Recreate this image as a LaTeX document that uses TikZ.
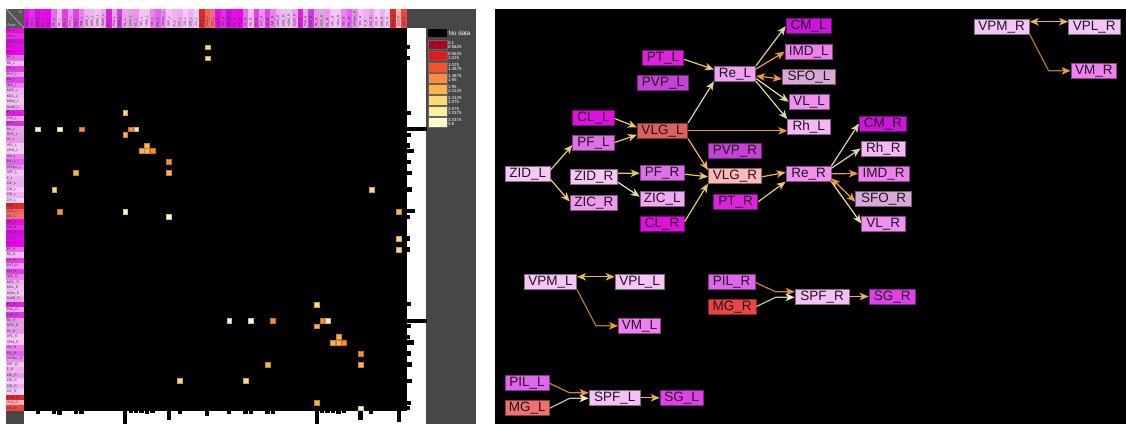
\documentclass[tikz,border=0pt]{standalone}
\usepackage{fontspec}
\setmainfont{Liberation Sans}
\usetikzlibrary{arrows.meta,calc}

% panel colours
\definecolor{panelgray}{HTML}{474747}
\definecolor{cornergray}{HTML}{555555}
\definecolor{ntxt}{HTML}{1E141E}
% heat map scale (YlOrRd)
\definecolor{lg1}{HTML}{B10026}
\definecolor{lg2}{HTML}{E31A1C}
\definecolor{lg3}{HTML}{FC4E2A}
\definecolor{lg4}{HTML}{FD8D3C}
\definecolor{lg5}{HTML}{FEB24C}
\definecolor{lg6}{HTML}{FED976}
\definecolor{lg7}{HTML}{FFEDA0}
\definecolor{lg8}{HTML}{FFFFCC}
% edge colours
\definecolor{epale}{HTML}{D6D6AA}
\definecolor{epy}{HTML}{E6DE9E}
\definecolor{eyel}{HTML}{E8C870}
\definecolor{elor}{HTML}{EEB452}
\definecolor{eora}{HTML}{F09A38}
\definecolor{ebrn}{HTML}{B07830}
\definecolor{ebro}{HTML}{C8842E}
\definecolor{egry}{HTML}{C4C4A2}
\definecolor{epal2}{HTML}{F2F2D2}
% node fills
\definecolor{fPT}{HTML}{DD22DD}
\definecolor{fPVP}{HTML}{C642D6}
\definecolor{fRe}{HTML}{F0A0F0}
\definecolor{fReR}{HTML}{F090F0}
\definecolor{fCM}{HTML}{CC14DC}
\definecolor{fIMD}{HTML}{EE80EE}
\definecolor{fSFO}{HTML}{D8A8D8}
\definecolor{fVL}{HTML}{F090F0}
\definecolor{fRh}{HTML}{F5B8F5}
\definecolor{fCL}{HTML}{E010E0}
\definecolor{fPF}{HTML}{E070E8}
\definecolor{fVLGL}{HTML}{DD6060}
\definecolor{fVLGR}{HTML}{FFB8B8}
\definecolor{fZID}{HTML}{F5C8F5}
\definecolor{fZICR}{HTML}{EE99EE}
\definecolor{fZICL}{HTML}{F0A8F0}
\definecolor{fVPx}{HTML}{F5C5F5}
\definecolor{fVM}{HTML}{F080F0}
\definecolor{fPIL}{HTML}{E066EE}
\definecolor{fMGR}{HTML}{EE4444}
\definecolor{fMGL}{HTML}{F07070}
\definecolor{fSPF}{HTML}{F5C0F5}
\definecolor{fSG}{HTML}{E040E8}

% nucleus name / colour for left side / colour for right side
\def\nuclist{AD/E010E0/E010E0, AM/E030E0/E030E0, CM/CC11DD/CC11DD, CL/E010E0/E010E0,
 PC/F000F0/F000F0, PF/E070E8/E070E8, Rh/F5B8F5/F5B8F5, PV/E040E0/E040E0,
 PVT/F090F0/F090F0, SG/E040E8/E040E8, IMD/EE80EE/EE80EE, MDC/F0B0F0/F0B0F0,
 MDL/F0B8F0/F0B8F0, MDM/F5C0F5/F5C0F5, SubD/E8A8E8/E8A8E8, PT/DD22DD/DD22DD,
 PVA/F0A0F0/F0A0F0, PVP/C840D8/C840D8, Re/F0A0F0/F090F0, SFO/D8A8D8/D8A8D8,
 VL/F090F0/F090F0, VPL/F5C5F5/F5C5F5, VPM/F5C5F5/F5C5F5, VM/F080F0/F080F0,
 PIL/E066EE/E066EE, VPMpc/E890F0/E890F0, SPF/F5C0F5/F5C0F5, F/F0B0F0/F0B0F0,
 ZIC/F0A8F0/EE99EE, ZID/F5C8F5/F5C8F5, ZIR/EEB0EE/EEB0EE, ZIV/F5D0F5/F5D0F5,
 DLG/E02828/E02828, VLG/EE6464/FFB0B0, MG/F07070/EE4444}

\tikzset{
  nd/.style={draw=#1!55!black, fill=#1, line width=0.7pt, minimum height=15pt,
    inner sep=0pt, text height=9.4pt, text depth=2.4pt,
    font=\fontsize{13.5}{13.5}\selectfont, text=ntxt},
  ctip/.style={line width=1.2pt, -{Stealth[length=9pt,width=7.5pt,inset=2.5pt,color=#1]}},
  ed/.style={line width=1.2pt, -{Stealth[length=9pt,width=7.5pt,inset=2.5pt]}},
  bd/.style={line width=1.2pt, {Stealth[length=9pt,width=7.5pt,inset=2.5pt]}-{Stealth[length=9pt,width=7.5pt,inset=2.5pt]}},
  tinylab/.style={inner sep=0.4pt, font=\fontsize{3.4}{3.4}\selectfont, text=black!80},
  hcell/.style={fill=#1, draw=#1!75!black, line width=0.3pt},
}

\begin{document}
\begin{tikzpicture}[x=1pt,y=-1pt]
\useasboundingbox (0,0) rectangle (1126,424);
\fill[white] (0,0) rectangle (1126,424);

% ---------------- connectivity matrix ----------------
\def\cs{5.47}
\fill[panelgray] (407,9) rectangle (476,424);
\fill[white] (407,28) rectangle (426,424);
\fill[white] (24,410.9) rectangle (426,424);
\fill[panelgray] (6,410.9) rectangle (24,424);
\fill[black] (24,28) rectangle (407,410.9);

% corner cell
\fill[cornergray] (6,9) rectangle (24,28);
\draw[white!70!gray, line width=0.4pt] (6,9) -- (24,28);
\node[tinylab, text=white!85!gray] (cto) at (20.5,12) {To};
\node[tinylab, text=white!85!gray] (cfrom) at (11.5,25.5) {From};

% row and column labels
\foreach \n/\cl/\cr [count=\i from 0] in \nuclist {
  \definecolor{tmpL}{HTML}{\cl}
  \definecolor{tmpR}{HTML}{\cr}
  \pgfmathtruncatemacro\j{\i+35}
  % rows
  \fill[tmpL] (6,{28+\i*\cs}) rectangle (24,{28+(\i+1)*\cs});
  \fill[tmpR] (6,{28+\j*\cs}) rectangle (24,{28+(\j+1)*\cs});
  \node[tinylab, anchor=west] at (6.3,{28+(\i+0.5)*\cs}) {\n\_L};
  \node[tinylab, anchor=west] at (6.3,{28+(\j+0.5)*\cs}) {\n\_R};
  % columns
  \fill[tmpL] ({24+\i*\cs},9) rectangle ({24+(\i+1)*\cs},28);
  \fill[tmpR] ({24+\j*\cs},9) rectangle ({24+(\j+1)*\cs},28);
  \node[tinylab, rotate=90, anchor=west] at ({24+(\i+0.5)*\cs},27.4) {\n\_L};
  \node[tinylab, rotate=90, anchor=west] at ({24+(\j+0.5)*\cs},27.4) {\n\_R};
}

% matrix entries: column / row / colour
\foreach \c/\r/\k in {33/3/lg6, 33/5/lg6, 18/15/lg6,
  2/18/lg8, 6/18/lg8, 10/18/lg4, 19/18/lg4, 20/18/lg7, 18/19/lg5,
  22/21/lg5, 21/22/lg5, 22/22/lg5, 23/22/lg4, 26/24/lg4,
  9/26/lg5, 26/26/lg5, 5/29/lg6, 63/29/lg6,
  6/33/lg4, 18/33/lg8, 68/33/lg5, 26/34/lg8,
  68/38/lg6, 68/40/lg6, 53/50/lg6,
  37/53/lg8, 41/53/lg8, 45/53/lg4, 54/53/lg4, 55/53/lg7, 53/54/lg5,
  57/56/lg5, 56/57/lg5, 57/57/lg5, 58/57/lg4, 61/59/lg4,
  44/61/lg5, 61/61/lg5, 40/64/lg6, 28/64/lg6, 53/68/lg5, 61/69/lg8} {
  \filldraw[hcell=\k] ({24+\c*\cs+0.3},{28+\r*\cs+0.3}) rectangle ++(\cs-0.6,\cs-0.6);
}

% row totals (right strip)
\foreach \r/\w in {3/3, 5/3, 15/4, 18/20, 19/4, 21/3, 22/7, 24/4, 26/5, 29/5, 33/8, 34/3,
  38/3, 40/3, 50/4, 53/20, 54/4, 56/3, 57/7, 59/4, 61/5, 64/5, 68/4, 69/3} {
  \fill[black] (407,{28+\r*\cs+0.6}) rectangle ++(\w,\cs-1.2);
}
% column totals (bottom strip)
\foreach \c/\h in {2/3, 5/3.5, 6/4, 9/3, 10/3, 18/13.1, 19/2.5, 20/2.5, 21/2.5, 22/3, 23/2.5,
  26/9, 28/3, 33/5, 37/3, 40/3, 41/3, 44/3, 45/3, 53/13.1, 54/2.5, 55/2.5, 56/2.5,
  57/3, 58/2.5, 61/9, 63/3, 68/11} {
  \fill[black] ({24+\c*\cs+0.6},410.9) rectangle ++(\cs-1.2,\h);
}

% legend
\fill[black] (428.3,29.3) rectangle (446.7,37.3);
\node[anchor=west, inner sep=0pt, text=white, font=\fontsize{6.2}{6.2}\selectfont] (nodata) at (448.5,33.3) {No data};
\foreach \k/\a/\b [count=\q from 0] in {lg1/0.1/0.5625, lg2/0.5625/1.025, lg3/1.025/1.4875,
  lg4/1.4875/1.95, lg5/1.95/2.4125, lg6/2.4125/2.875, lg7/2.875/3.3375, lg8/3.3375/3.8} {
  \filldraw[fill=\k, draw=black!60, line width=0.4pt] (428.3,{40+\q*11.05}) rectangle ++(18.4,9.6);
  \node[anchor=west, inner sep=0pt, align=left, text=white,
    font=\fontsize{4.4}{4.4}\selectfont] at (447.8,{44.8+\q*11.05}) {\a\\\b};
}

% ---------------- network ----------------
\fill[black] (495,9) rectangle (1126,424);

\node[nd=fPT,  minimum width=41.4pt] (PTL)  at (663,58.3)   {PT\_L};
\node[nd=fPVP, minimum width=50.6pt] (PVPL) at (663,83.3)   {PVP\_L};
\node[nd=fRe,  minimum width=41.4pt] (ReL)  at (735,73.5)   {Re\_L};
\node[nd=fCM,  minimum width=45pt]   (CML)  at (808.5,26.2) {CM\_L};
\node[nd=fIMD, minimum width=47.7pt] (IMDL) at (808.8,51.8) {IMD\_L};
\node[nd=fSFO, minimum width=53.4pt] (SFOL) at (809,76.5)   {SFO\_L};
\node[nd=fVL,  minimum width=40pt]   (VLL)  at (809,101.8)  {VL\_L};
\node[nd=fRh,  minimum width=42.3pt] (RhL)  at (808.8,127)  {Rh\_L};
\node[nd=fCL,  minimum width=41.6pt] (CLL)  at (593.5,117.5){CL\_L};
\node[nd=fPF,  minimum width=41.6pt] (PFL)  at (593.5,142.5){PF\_L};
\node[nd=fVLGL,minimum width=50.4pt] (VLGL) at (662.5,130.8){VLG\_L};
\node[nd=fPVP, minimum width=53.4pt] (PVPR) at (735,150.8)  {PVP\_R};
\node[nd=fZID, minimum width=44.3pt] (ZIDL) at (527.8,174.2){ZID\_L};
\node[nd=fZID, minimum width=47.7pt] (ZIDR) at (593.8,176.8){ZID\_R};
\node[nd=fPF,  minimum width=44.3pt] (PFR)  at (662.2,173.2){PF\_R};
\node[nd=fVLGR,minimum width=53.4pt] (VLGR) at (735,175.8)  {VLG\_R};
\node[nd=fReR, minimum width=45pt]   (ReR)  at (808.5,173.8){Re\_R};
\node[nd=fZICR,minimum width=47.7pt] (ZICR) at (593.8,202.5){ZIC\_R};
\node[nd=fZICL,minimum width=44.3pt] (ZICL) at (662.2,199.2){ZIC\_L};
\node[nd=fPT,  minimum width=44.4pt] (PTR)  at (735.5,201.8){PT\_R};
\node[nd=fCL,  minimum width=44.3pt] (CLR)  at (662.2,223.5){CL\_R};
\node[nd=fVPx, minimum width=55.3pt] (VPMR) at (1001.7,26.5){VPM\_R};
\node[nd=fVPx, minimum width=51.7pt] (VPLR) at (1094.2,26.5){VPL\_R};
\node[nd=fVM,  minimum width=45.7pt] (VMR)  at (1093.8,70.8){VM\_R};
\node[nd=fCM,  minimum width=47.4pt] (CMR)  at (883,123.5)  {CM\_R};
\node[nd=fRh,  minimum width=44.7pt] (RhR)  at (883.3,148.5){Rh\_R};
\node[nd=fIMD, minimum width=50.7pt] (IMDR) at (883.7,173.5){IMD\_R};
\node[nd=fSFO, minimum width=56pt]   (SFOR) at (883.7,199.2){SFO\_R};
\node[nd=fVL,  minimum width=43.3pt] (VLR)  at (883.3,223.5){VL\_R};
\node[nd=fVPx, minimum width=52.4pt] (VPML) at (550.5,281.8){VPM\_L};
\node[nd=fVPx, minimum width=49.3pt] (VPLL) at (639.7,281.8){VPL\_L};
\node[nd=fVM,  minimum width=42.4pt] (VML)  at (639.5,325.8){VM\_L};
\node[nd=fPIL, minimum width=46.7pt] (PILR) at (731.7,281.5){PIL\_R};
\node[nd=fMGR, minimum width=47.7pt] (MGR)  at (732.2,306.5){MG\_R};
\node[nd=fSPF, minimum width=54pt]   (SPFR) at (822,296.5)  {SPF\_R};
\node[nd=fSG,  minimum width=46.7pt] (SGR)  at (892.3,296.5){SG\_R};
\node[nd=fPIL, minimum width=44pt]   (PILL) at (527,383.2)  {PIL\_L};
\node[nd=fMGL, minimum width=44.3pt] (MGL)  at (527.2,408.2){MG\_L};
\node[nd=fSPF, minimum width=51.7pt] (SPFL) at (614.8,397.8){SPF\_L};
\node[nd=fSG,  minimum width=43.3pt] (SGL)  at (681.7,397.8){SG\_L};

% left hemisphere chain
\draw[ed, eyel] ($(PTL.east)+(0,1)$) -- ($(ReL.west)+(0,-4)$);
\draw[ed, epale] (VLGL.north east) -- (ReL.south west);
\draw[ed, epale] (ReL.north east) -- (CML.west);
\draw[ed, eora] ($(ReL.east)+(0,-4.5)$) -- (IMDL.west);
\draw[bd, eora] ($(ReL.east)+(0,2.5)$) -- ($(SFOL.west)+(0,2.5)$);
\draw[ed, epy] ($(ReL.east)+(0,5)$) -- (VLL.west);
\draw[ed, epale] (ReL.south east) -- (RhL.north west);
\draw[ed, eyel] ($(CLL.east)+(0,1)$) -- ($(VLGL.west)+(0,-3.5)$);
\draw[ed, eyel] (PFL.east) -- ($(VLGL.west)+(0,4)$);
\draw[ed, eora] (VLGL.east) -- (VLGL.east -| RhL.west);
\draw[ed, elor] (VLGL.south east) -- ($(VLGR.north west)+(0,2)$);
\draw[ed, eyel] ($(ZIDL.east)+(0,-4)$) -- ($(PFL.west)+(0,2.5)$);
\draw[ed, eyel] ($(ZIDL.east)+(0,5)$) -- ($(ZICR.west)+(0,-1)$);
\draw[ed, eyel] ($(ZIDR.east)+(0,-3.5)$) -- (PFR.west);
\draw[ed, epy] ($(ZIDR.east)+(0,5.5)$) -- ($(ZICL.west)+(0,-2.5)$);

% right hemisphere chain
\draw[ed, eyel] ($(PFR.east)+(0,1)$) -- ($(VLGR.west)+(0,1)$);
\draw[ed, eyel] ($(CLR.east)+(0,-2)$) -- (VLGR.south west);
\draw[ed, elor] ($(VLGR.east)+(0,1)$) -- ($(ReR.west)+(0,-1.5)$);
\draw[ed, eyel] (PTR.east) -- (ReR.south west);
\draw[ed, epale] (ReR.north east) -- (CMR.west);
\draw[ed, epale] ($(ReR.east)+(0,-5.5)$) -- (RhR.west);
\draw[ed, eora] (ReR.east) -- (IMDR.west);
\draw[bd, eora] ($(ReR.east)+(0,4.5)$) -- ($(SFOR.west)+(0,2.5)$);
\draw[ed, epy] (ReR.south east) -- (VLR.west);

% ventral posterior groups
\draw[bd, elor] ($(VPMR.east)+(0,-4.8)$) -- ($(VPLR.west)+(0,-4.8)$);
\draw[ebrn, ctip=eora] (VPMR.south east) -- ($(VMR.west)+(-22,0)$) -- (VMR.west);
\draw[bd, elor] ($(VPML.east)+(0,-5)$) -- ($(VPLL.west)+(0,-5)$);
\draw[ebrn, ctip=eora] (VPML.south east) -- ($(VML.west)+(-22,0)$) -- (VML.west);

% posterior intralaminar / geniculate groups
\draw[ebro, ctip=eora] ($(PILR.east)+(0,1)$) -- ($(SPFR.west)+(-19,-4.8)$) -- ($(SPFR.west)+(0,-4.8)$);
\draw[egry, ctip=epal2] (MGR.east) -- ($(SPFR.west)+(-19,0.8)$) -- ($(SPFR.west)+(0,0.8)$);
\draw[ed, elor] (SPFR.east) -- (SGR.west);
\draw[ebro, ctip=eora] (PILL.east) -- ($(SPFL.west)+(-19,-5)$) -- ($(SPFL.west)+(0,-5)$);
\draw[egry, ctip=epal2] (MGL.east) -- ($(SPFL.west)+(-19,0.5)$) -- ($(SPFL.west)+(0,0.5)$);
\draw[ed, elor] (SPFL.east) -- (SGL.west);
\end{tikzpicture}
\end{document}
